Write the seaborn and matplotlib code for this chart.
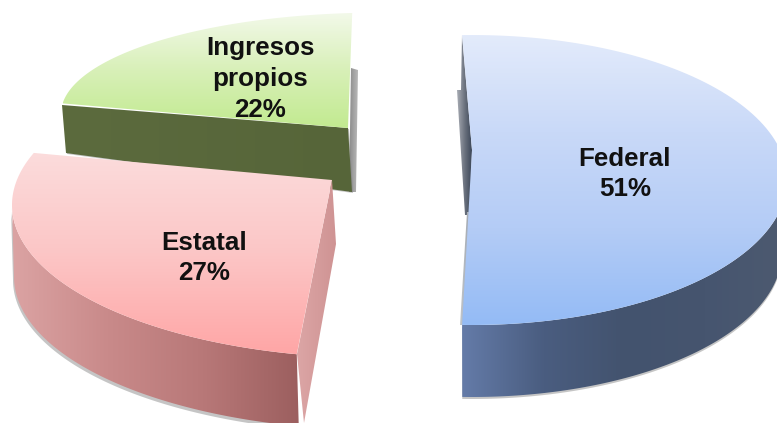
import numpy as np
import matplotlib
matplotlib.use("Agg")
import matplotlib.pyplot as plt
from matplotlib.patches import Polygon
import seaborn as sns

sns.set_theme(style="white")
plt.rcParams['font.family'] = ['Liberation Sans', 'DejaVu Sans']

# Datos
categorias = ["Federal", "Estatal", "Ingresos\npropios"]
porcentajes = [51, 27, 22]

# Gradientes
top_federal = ["#e3ebfb", "#c9d9f8", "#b4ccf6", "#94bbf5"]
top_estatal = ["#fbdcdc", "#fcc6c6", "#ffa6a6"]
top_ingresos = ["#f3f9ea", "#d8f0b8", "#c2ea90"]
wall_federal = ["#647ba8", "#4a5d80", "#43536e", "#46556f", "#4d5a70"]
wall_estatal = ["#dba3a3", "#c98a8a", "#b87878", "#9c5f5f"]
wall_ingresos = ["#5c6b3e", "#566539"]


def arc(cx, cy, a, b, t_from, t_to, n=120):
    t = np.radians(np.linspace(t_from, t_to, n))
    return np.column_stack([cx + a * np.cos(t), cy - b * np.sin(t)])


def grad_fill(ax, pts, colors, vertical=True, zorder=2):
    cmap = sns.blend_palette(colors, as_cmap=True)
    xmin, ymin = pts.min(axis=0)
    xmax, ymax = pts.max(axis=0)
    g = np.linspace(0, 1, 256)
    g = g[:, None] if vertical else g[None, :]
    im = ax.imshow(g, cmap=cmap, extent=(xmin, xmax, ymax, ymin), origin='upper',
                   aspect='auto', interpolation='bilinear', zorder=zorder)
    clip = Polygon(pts, closed=True, transform=ax.transData, fc='none', ec='none')
    ax.add_patch(clip)
    im.set_clip_path(clip)


def shadow(ax, pts, dx=2, dy=2, zorder=1):
    ax.add_patch(Polygon(pts + [dx, dy], closed=True, fc='#808080', ec='none', alpha=0.45, zorder=zorder))


def main():
    fig = plt.figure(figsize=(7.77, 4.23), dpi=100)
    ax = fig.add_axes([0, 0, 1, 1])

    sweeps = [p * 3.6 for p in porcentajes]

    # ── Federal ──
    t0 = sweeps[0] / 2
    t1 = t0 - sweeps[0]
    top = arc(472, 180, 315, 145, t0, t1)
    sup = np.vstack([[[472, 150]], top])
    front_top = arc(472, 180, 315, 145, t1, 0)
    front_bot = arc(472, 252, 310, 145, 0, t1)
    wall = np.vstack([front_top, front_bot])
    shadow(ax, wall, dx=0, dy=2)
    grad_fill(ax, wall, wall_federal, vertical=False)
    # cara interior oscura
    inner = np.array([[462, 35], [472, 150], [470, 215], [465, 215], [457, 90], [461, 90]])
    grad_fill(ax, inner, ["#a9adb5", "#6d7480", "#3c4658"], vertical=False)
    edge = np.array([[467, 212], [471, 212], [463, 325], [460, 325]])
    grad_fill(ax, edge, ["#c4c8cc", "#9aa0a8"], vertical=False)
    grad_fill(ax, sup, top_federal, zorder=3)

    # ── Ingresos propios ──
    t0 = 95
    t1 = t0 + sweeps[2]
    top = arc(380, 113.6, 319, 101, t0, t1)
    sup = np.vstack([[[348, 128]], top])
    wall = np.array([[62, 105], [348, 128], [352, 192], [66, 153]])
    side = np.array([[351, 68], [358, 70], [356, 192], [349, 192]])
    grad_fill(ax, side, ["#8a8a8a", "#b8b8b8"], vertical=False)
    shadow(ax, wall, dx=1, dy=1, zorder=4)
    grad_fill(ax, wall, wall_ingresos, vertical=False, zorder=4)
    grad_fill(ax, sup, top_ingresos, zorder=5)

    # ── Estatal ──
    t0 = -102.7
    t1 = t0 - sweeps[1]
    top = arc(377, 205, 365, 153, t0, t1)
    sup = np.vstack([[[332, 180]], top])
    front_top = arc(377, 205, 365, 153, t0, -180)
    front_bot = arc(379, 277, 365, 153, -180, t0)
    wall = np.vstack([front_top, front_bot])
    shadow(ax, wall, dx=-1, dy=3, zorder=6)
    side = np.array([[332, 180], [336, 244], [304, 423], [297, 354]])
    grad_fill(ax, side, ["#dca6a6", "#cf9393"], vertical=False, zorder=7)
    grad_fill(ax, wall, wall_estatal, vertical=False, zorder=7)
    grad_fill(ax, sup, top_estatal, zorder=8)

    # ── Etiquetas ──
    posiciones = [(625, 174), (204, 258), (260, 79)]
    for cat, pct, (x, y) in zip(categorias, porcentajes, posiciones):
        ax.text(x, y, f"{cat}\n{pct}%", ha='center', va='center', fontsize=18.7,
                fontweight='bold', color='#111111', linespacing=1.36, zorder=10)

    ax.set_xlim(0, 777)
    ax.set_ylim(423, 0)
    ax.axis('off')
    fig.savefig("out.png", dpi=100)


if __name__ == "__main__":
    main()
